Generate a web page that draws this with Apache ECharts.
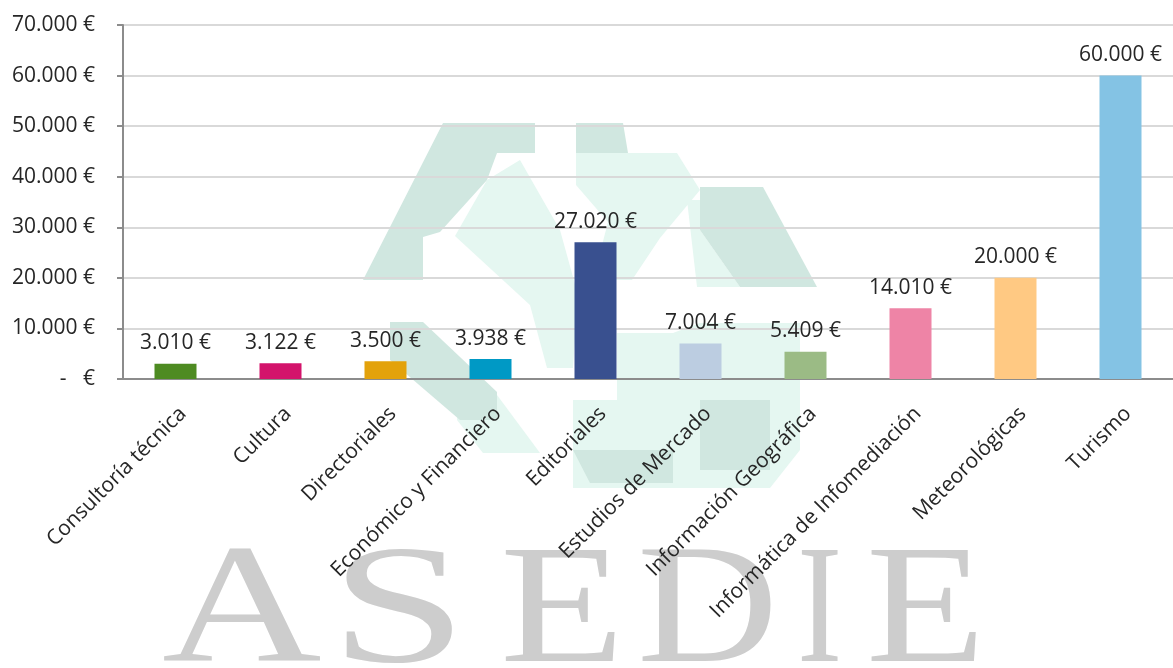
<!DOCTYPE html>
<html>
<head>
<meta charset="utf-8">
<script src="https://cdn.jsdelivr.net/npm/echarts@6/dist/echarts.min.js"></script>
<style>
  html, body { margin: 0; padding: 0; background: #fff; }
  #chart { width: 1173px; height: 668px; }
</style>
</head>
<body>
<div id="chart"></div>
<script>
// Data
const categories = [
    'Consultoría técnica',
    'Cultura',
    'Directoriales',
    'Económico y Financiero',
    'Editoriales',
    'Estudios de Mercado',
    'Información Geográfica',
    'Informática de Infomediación',
    'Meteorológicas',
    'Turismo'
];
const values = [3010, 3122, 3500, 3938, 27020, 7004, 5409, 14010, 20000, 60000];
const barColors = [
    '#4E8B22', '#D3136B', '#E3A20B', '#0099C5', '#39508F',
    '#BCCDE1', '#9BBB85', '#EE84A6', '#FFC983', '#84C3E4'
];
const yTicks = { min: 0, max: 70000, interval: 10000 };

function euro(v) {
    if (v === 0) return '-   €';
    return String(v).replace(/\B(?=(\d{3})+(?!\d))/g, '.') + ' €';
}

const FONT = '"Open Sans", "Noto Sans", sans-serif';
const TEXT = '#262626';
const AXIS = '#8c8c8c';

// Background logo watermark (pale mint), light pieces first, dark on top
const DARK = '#d0e7e0';
const LIGHT = '#e5f7f1';
const logo = [
    { fill: LIGHT, points: [[487, 180], [520, 160], [560, 230], [578, 295], [573, 368], [547, 368], [530, 305], [455, 236]] },
    { fill: LIGHT, points: [[576, 153], [677, 153], [700, 190], [660, 238], [632, 280], [593, 280], [608, 222], [576, 185]] },
    { fill: LIGHT, points: [[687, 200], [700, 200], [700, 230], [740, 287], [697, 287]] },
    { fill: LIGHT, points: [[457, 383], [497, 395], [523, 430], [540, 453], [483, 453], [457, 420]] },
    { fill: LIGHT, points: [[617, 333], [673, 333], [700, 323], [800, 323], [800, 450], [770, 488], [573, 488], [573, 400], [617, 400]] },
    { fill: DARK, points: [[443, 123], [535, 123], [535, 153], [497, 153], [487, 180], [440, 232], [423, 237], [423, 280], [363, 280]] },
    { fill: DARK, points: [[576, 123], [623, 123], [628, 153], [576, 153]] },
    { fill: DARK, points: [[700, 187], [763, 187], [817, 287], [740, 287], [700, 230]] },
    { fill: DARK, points: [[390, 322], [423, 322], [497, 392], [497, 420], [460, 420], [390, 360]] },
    { fill: DARK, points: [[573, 450], [673, 450], [673, 483], [590, 483]] },
    { fill: DARK, points: [[700, 400], [770, 400], [770, 470], [700, 470]] }
];

// "ASEDIE" letters of the watermark: [letter, left, horizontal stretch]
const wordmark = [
    ['A', 162, 1.3], ['S', 330, 1.45], ['E', 500, 1.2],
    ['D', 637, 1.15], ['I', 797, 0.8], ['E', 866, 1.15]
];

const graphics = logo.map((p) => ({
    type: 'polygon',
    z: -10,
    silent: true,
    shape: { points: p.points },
    style: { fill: p.fill }
}));
wordmark.forEach(([ch, left, sx]) => {
    graphics.push({
        type: 'text',
        z: -10,
        silent: true,
        x: left,
        y: 616,
        scaleX: sx,
        style: {
            text: ch,
            font: '170px "Liberation Serif", serif',
            fill: '#cdcdcd',
            verticalAlign: 'middle'
        }
    });
});

const chart = echarts.init(document.getElementById('chart'));
chart.setOption({
    animation: false,
    backgroundColor: '#fff',
    graphic: graphics,
    grid: { left: 123, top: 25, right: -3, bottom: 289, containLabel: false },
    xAxis: {
        type: 'category',
        data: categories,
        axisLine: { lineStyle: { color: AXIS, width: 2 } },
        axisTick: { length: 6, lineStyle: { color: AXIS, width: 2 } },
        axisLabel: {
            rotate: 45,
            margin: 24,
            verticalAlign: 'top',
            color: TEXT,
            fontFamily: FONT,
            fontSize: 21,
            interval: 0
        }
    },
    yAxis: {
        type: 'value',
        min: yTicks.min,
        max: yTicks.max,
        interval: yTicks.interval,
        axisLine: { show: true, lineStyle: { color: AXIS, width: 2 } },
        axisTick: { show: true, length: 6, lineStyle: { color: AXIS, width: 2 } },
        splitLine: { lineStyle: { color: '#d9d9d9', width: 2 } },
        axisLabel: {
            margin: 28,
            color: TEXT,
            fontFamily: FONT,
            fontSize: 21,
            formatter: euro
        }
    },
    series: [{
        type: 'bar',
        barWidth: 42,
        data: values.map((v, i) => ({ value: v, itemStyle: { color: barColors[i] } })),
        label: {
            show: true,
            position: 'top',
            distance: 10,
            color: TEXT,
            fontFamily: FONT,
            fontSize: 21,
            formatter: (p) => euro(p.value)
        }
    }]
});
</script>
</body>
</html>
